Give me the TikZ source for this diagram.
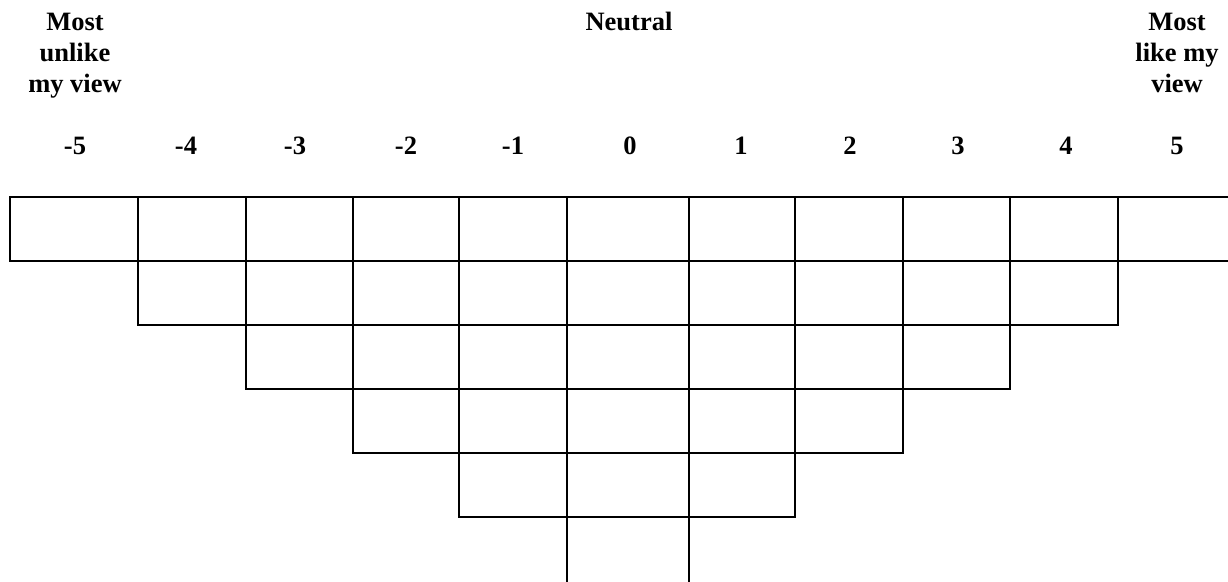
\documentclass[tikz,border=0pt]{standalone}
\usepackage{fontspec}
\setmainfont{Liberation Serif}
\begin{document}
\begin{tikzpicture}[x=1pt,y=-1pt,
  gridline/.style={line width=1.4pt, black, line cap=rect},
  lab/.style={font=\bfseries\fontsize{26.5}{31}\selectfont, inner sep=0pt, anchor=base, align=center}]
\useasboundingbox (0,0) rectangle (1228,581);
% header labels (anchor base = baseline of last line)
\node[lab] (unlike) at (75,92) {Most\\unlike\\my view};
\node[lab] (neutral) at (629,30) {Neutral};
\node[lab] (like) at (1177,92) {Most\\like my\\view};
% scale numbers
\foreach \v/\x [count=\i] in {-5/75,-4/186,-3/295,-2/406,-1/513,0/630,1/741,2/850,3/958,4/1066,5/1177}
  \node[lab] (n\i) at (\x,154) {\v};
% row 1
\draw[gridline] (10,197) -- (1232,197);
\draw[gridline] (10,261) -- (1232,261);
\foreach \x in {10,138,246,353,459,567,689,795,903,1010,1118}
  \draw[gridline] (\x,197) -- (\x,261);
% row 2
\foreach \x in {138,246,353,459,567,689,795,903,1010,1118}
  \draw[gridline] (\x,261) -- (\x,325);
\draw[gridline] (138,325) -- (1118,325);
% row 3
\foreach \x in {246,353,459,567,689,795,903,1010}
  \draw[gridline] (\x,325) -- (\x,389);
\draw[gridline] (246,389) -- (1010,389);
% row 4
\foreach \x in {353,459,567,689,795,903}
  \draw[gridline] (\x,389) -- (\x,453);
\draw[gridline] (353,453) -- (903,453);
% row 5
\foreach \x in {459,567,689,795}
  \draw[gridline] (\x,453) -- (\x,517);
\draw[gridline] (459,517) -- (795,517);
% row 6
\foreach \x in {567,689}
  \draw[gridline] (\x,517) -- (\x,585);
\end{tikzpicture}
\end{document}
